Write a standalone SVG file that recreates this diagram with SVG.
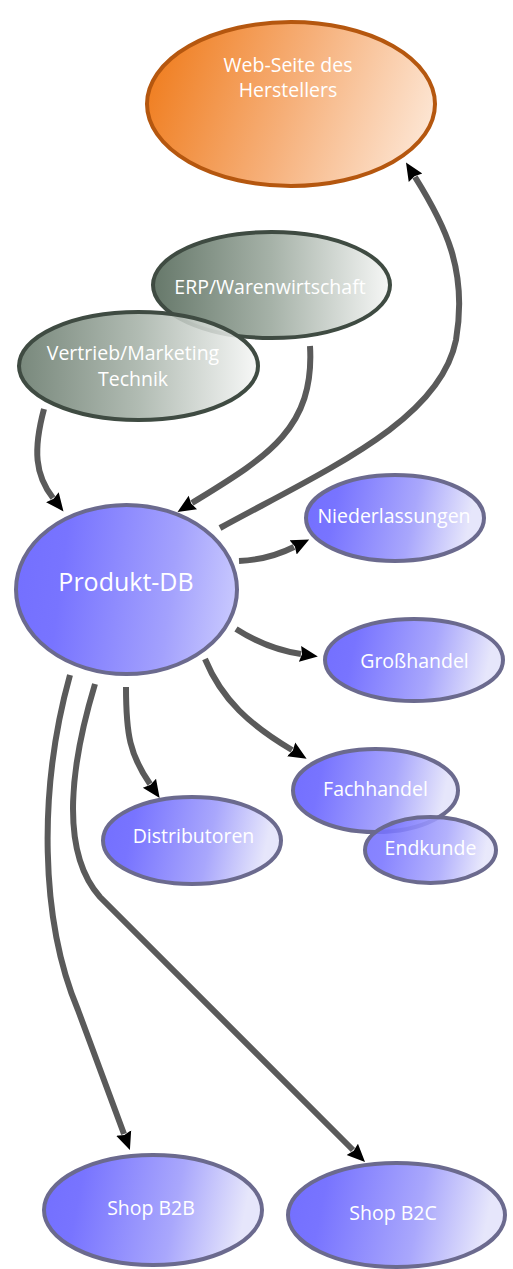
<svg xmlns="http://www.w3.org/2000/svg" width="513" height="1269" viewBox="0 0 513 1269">
<style>
.lbl{font-family:"Open Sans","Noto Sans","DejaVu Sans",sans-serif;fill:#ffffff;text-anchor:middle;font-size:19.5px}
.big{font-size:25px}
.conn{fill:none;stroke:#5a5a5a;stroke-width:6;marker-end:url(#arr)}
.orange{fill:url(#gO);stroke:#b5570f;stroke-width:4}
.green{fill:url(#gG);stroke:#3f4b42;stroke-width:4}
.blue{fill:url(#gB);stroke:#6b6a8e;stroke-width:4}
</style>
<defs>
<linearGradient id="gO" x1="0" y1="0.4" x2="1" y2="0.6">
<stop offset="0" stop-color="#f07f22"/>
<stop offset="0.5" stop-color="#f6b07a"/>
<stop offset="1" stop-color="#fde6d4"/>
</linearGradient>
<linearGradient id="gG" x1="0" y1="0" x2="1" y2="0">
<stop offset="0" stop-color="#66786a"/>
<stop offset="0.5" stop-color="#a6b2a8"/>
<stop offset="1" stop-color="#f6f7f6"/>
</linearGradient>
<linearGradient id="gB" x1="0" y1="0.45" x2="1" y2="0.55">
<stop offset="0" stop-color="#7470ff"/>
<stop offset="0.15" stop-color="#7874ff"/>
<stop offset="0.6" stop-color="#a9a7fc"/>
<stop offset="0.92" stop-color="#e6e6fb"/>
</linearGradient>
<linearGradient id="gDB" x1="0" y1="0.45" x2="1" y2="0.55">
<stop offset="0" stop-color="#7470ff"/>
<stop offset="0.2" stop-color="#7874ff"/>
<stop offset="0.7" stop-color="#a3a1fd"/>
<stop offset="1" stop-color="#c8c8fe"/>
</linearGradient>
<marker id="arr" markerUnits="userSpaceOnUse" markerWidth="24" markerHeight="20" viewBox="0 -10 24 20" refX="1" refY="0" orient="auto">
<path d="M0,-8 L18,0 L0,8 L2,0 z" fill="#000"/>
</marker>
</defs>
<g id="connectors">
<path class="conn" d="M310,346 C315,430 265,458 192,503"/>
<path class="conn" d="M44,409 C33,450 35,475 53,498"/>
<path class="conn" d="M220,528 C330,468 440,420 456,340 C468,270 445,225 415,177"/>
<path class="conn" d="M239,561 C262,560 278,555 294,547"/>
<path class="conn" d="M236,629 C258,643 280,651 301,654"/>
<path class="conn" d="M205,659 C222,700 250,725 292,750"/>
<path class="conn" d="M126,687 C126,735 130,755 150,784"/>
<path class="conn" d="M70,675 C38,790 40,920 78,1010 L124,1134"/>
<path class="conn" d="M95,684 C72,760 58,850 100,897 L353,1150"/>
</g>
<g id="web">
<ellipse class="orange" cx="291" cy="104" rx="144" ry="82"/>
<text class="lbl" x="288" y="72">Web-Seite des</text>
<text class="lbl" x="288" y="97">Herstellers</text>
</g>
<g id="erp">
<ellipse class="green" cx="271.5" cy="285" rx="118.5" ry="53"/>
<text class="lbl" x="270" y="294">ERP/Warenwirtschaft</text>
</g>
<g id="vertrieb">
<ellipse class="green" cx="138.5" cy="366" rx="119.5" ry="54" fill-opacity="0.88"/>
<text class="lbl" x="133" y="360">Vertrieb/Marketing</text>
<text class="lbl" x="133" y="386">Technik</text>
</g>
<g id="produktdb">
<ellipse class="blue" cx="126.5" cy="589.5" rx="110.5" ry="84.5" fill="url(#gDB)" style="fill:url(#gDB)"/>
<text class="lbl big" x="126" y="591">Produkt-DB</text>
</g>
<g id="niederlassungen">
<ellipse class="blue" cx="395" cy="518" rx="89" ry="43"/>
<text class="lbl" x="394" y="523">Niederlassungen</text>
</g>
<g id="grosshandel">
<ellipse class="blue" cx="414" cy="660" rx="89" ry="41"/>
<text class="lbl" x="414.5" y="668">Großhandel</text>
</g>
<g id="fachhandel">
<ellipse class="blue" cx="375.5" cy="790.5" rx="82.5" ry="41.5"/>
<text class="lbl" x="375.5" y="796">Fachhandel</text>
</g>
<g id="endkunde">
<ellipse class="blue" cx="430.5" cy="850" rx="65.5" ry="33" fill-opacity="0.88"/>
<text class="lbl" x="430.5" y="855">Endkunde</text>
</g>
<g id="distributoren">
<ellipse class="blue" cx="192" cy="840.5" rx="89" ry="43.5"/>
<text class="lbl" x="193.5" y="843">Distributoren</text>
</g>
<g id="shopb2b">
<ellipse class="blue" cx="153" cy="1210" rx="109" ry="55"/>
<text class="lbl" x="151" y="1215">Shop B2B</text>
</g>
<g id="shopb2c">
<ellipse class="blue" cx="396.5" cy="1215" rx="108.5" ry="52"/>
<text class="lbl" x="393" y="1220">Shop B2C</text>
</g>
</svg>
